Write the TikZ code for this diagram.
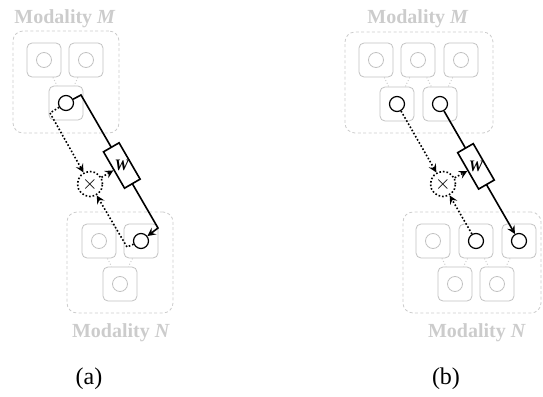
\documentclass[tikz,border=0pt]{standalone}
\usepackage{fontspec}
\setmainfont{Liberation Serif}
\usetikzlibrary{arrows,positioning,shapes.geometric}

\definecolor{modgray}{gray}{0.80}
\definecolor{unitgray}{gray}{0.76}

\tikzset{
  group/.style={draw=modgray, dashed, dash pattern=on 1.5pt off 1.2pt, rounded corners=5pt, line width=0.4pt},
  unit/.style={draw=unitgray, rounded corners=2.5pt, minimum size=17pt, inner sep=0pt, line width=0.4pt},
  hole/.style={draw=unitgray, circle, minimum size=7.5pt, inner sep=0pt, line width=0.4pt},
  active/.style={draw=black, semithick},
  link/.style={draw=modgray, densely dotted, line width=0.5pt},
  modtext/.style={text=modgray, font=\fontsize{10}{12}\selectfont\bfseries, anchor=base},
  caption/.style={font=\fontsize{12}{14}\selectfont, anchor=base},
  wbox/.style={draw, fill=white, thick, minimum width=21pt, minimum height=9pt, inner sep=0pt},
  wtext/.style={font=\fontsize{8}{9}\selectfont\bfseries\itshape},
  mult/.style={draw, circle, thick, densely dotted, minimum size=12.5pt, inner sep=0pt},
  flow/.style={->, thick},
  gate/.style={->, thick, densely dotted}
}

\begin{document}
\begin{tikzpicture}[x=0.5pt, y=-0.5pt, >=stealth]
  \useasboundingbox (0,0) rectangle (543,397);

  %% ---------- (a) ----------
  % Modality M
  \node[group, minimum width=53pt, minimum height=51pt] (grpMa) at (66,82) {};
  \node[modtext] (txtMa) at (65,23) {Modality \textit{M}};
  \node[unit] (Ma1) at (44,60) {};  \node[hole] (Ma1c) at (Ma1) {};
  \node[unit] (Ma2) at (86,60) {};  \node[hole] (Ma2c) at (Ma2) {};
  \node[unit] (Ma3) at (66,103) {}; \node[hole, active] (Ma3c) at (Ma3) {};
  \draw[link] (Ma1) -- (Ma3);
  \draw[link] (Ma2) -- (Ma3);

  % Modality N
  \node[group, minimum width=53pt, minimum height=50.5pt] (grpNa) at (120,262.5) {};
  \node[modtext] (txtNa) at (121,337) {Modality \textit{N}};
  \node[unit] (Na1) at (99,241) {};  \node[hole] (Na1c) at (Na1) {};
  \node[unit] (Na2) at (141,241) {}; \node[hole, active] (Na2c) at (Na2) {};
  \node[unit] (Na3) at (120,284) {}; \node[hole] (Na3c) at (Na3) {};
  \draw[link] (Na1) -- (Na3);
  \draw[link] (Na2) -- (Na3);

  % weighted path and gating
  \coordinate (ka1) at (81,95);
  \coordinate (ka2) at (158,228);
  \coordinate (da1) at (50,113);
  \coordinate (da2) at (127,247);
  \node[mult] (xa) at (90,184) {$\times$};
  \draw[flow] (Ma3c) -- (ka1) -- (ka2) -- (Na2c);
  \path (ka1) -- (ka2) node[wbox, sloped, pos=.53] (Wa) {};
  \node[wtext] at (Wa) {W};
  \draw[gate] (Ma3c) -- (da1) -- (xa);
  \draw[gate] (Na2c) -- (da2) -- (xa);
  \draw[gate] (xa) -- (Wa);

  \node[caption] (capa) at (89,384) {(a)};

  %% ---------- (b) ----------
  % Modality M
  \node[group, minimum width=74pt, minimum height=50.5pt] (grpMb) at (419,82.5) {};
  \node[modtext] (txtMb) at (418,23) {Modality \textit{M}};
  \node[unit] (Mb1) at (376,60) {};  \node[hole] (Mb1c) at (Mb1) {};
  \node[unit] (Mb2) at (418,60) {};  \node[hole] (Mb2c) at (Mb2) {};
  \node[unit] (Mb3) at (461,60) {};  \node[hole] (Mb3c) at (Mb3) {};
  \node[unit] (Mb4) at (397,104) {}; \node[hole, active] (Mb4c) at (Mb4) {};
  \node[unit] (Mb5) at (440,104) {}; \node[hole, active] (Mb5c) at (Mb5) {};
  \draw[link] (Mb1) -- (Mb4);
  \draw[link] (Mb2) -- (Mb4);
  \draw[link] (Mb2) -- (Mb5);
  \draw[link] (Mb3) -- (Mb5);

  % Modality N
  \node[group, minimum width=69pt, minimum height=50.5pt] (grpNb) at (472,262.5) {};
  \node[modtext] (txtNb) at (477,337) {Modality \textit{N}};
  \node[unit] (Nb1) at (433,241) {}; \node[hole] (Nb1c) at (Nb1) {};
  \node[unit] (Nb2) at (476,241) {}; \node[hole, active] (Nb2c) at (Nb2) {};
  \node[unit] (Nb3) at (519,241) {}; \node[hole, active] (Nb3c) at (Nb3) {};
  \node[unit] (Nb4) at (455,284) {}; \node[hole] (Nb4c) at (Nb4) {};
  \node[unit] (Nb5) at (497,284) {}; \node[hole] (Nb5c) at (Nb5) {};
  \draw[link] (Nb1) -- (Nb4);
  \draw[link] (Nb2) -- (Nb4);
  \draw[link] (Nb2) -- (Nb5);
  \draw[link] (Nb3) -- (Nb5);

  % weighted path and gating
  \node[mult] (xb) at (443,184) {$\times$};
  \draw[flow] (Mb5c) -- (Nb3c);
  \path (Mb5c) -- (Nb3c) node[wbox, sloped, pos=.45] (Wb) {};
  \node[wtext] at (Wb) {W};
  \draw[gate] (Mb4c) -- (xb);
  \draw[gate] (Nb2c) -- (xb);
  \draw[gate] (xb) -- (Wb);

  \node[caption] (capb) at (446,384) {(b)};
\end{tikzpicture}
\end{document}
